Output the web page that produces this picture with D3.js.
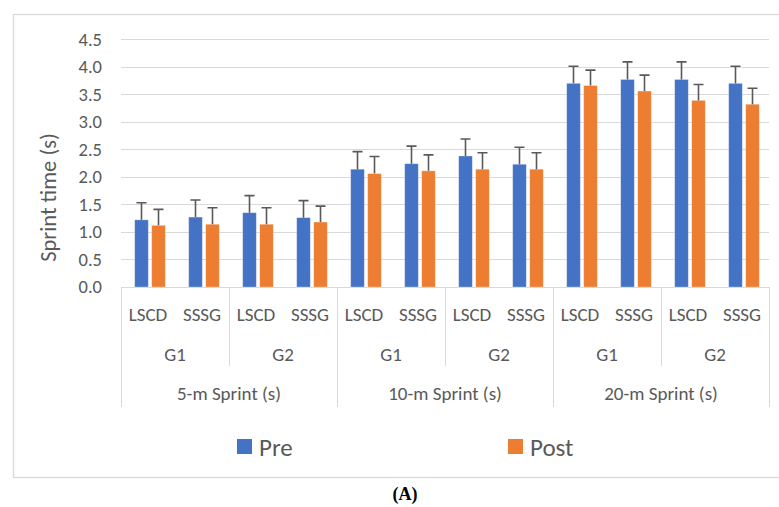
<!DOCTYPE html>
<html>
<head>
    <meta charset="utf-8">
    <title>Sprint time</title>
    <style>
        body { margin: 0; background: #fff; }
        text { font-family: Calibri, Carlito, Lato, sans-serif; fill: #595959; }
        .grid line { stroke: #d9d9d9; stroke-width: 1.3px; shape-rendering: crispEdges; }
        .cat line { stroke: #d9d9d9; stroke-width: 1.3px; shape-rendering: crispEdges; }
        .err { stroke: #595959; stroke-width: 1.6px; fill: none; }
    </style>
    <script src="https://cdn.jsdelivr.net/npm/d3@7"></script>
</head>
<body>
    <script>
        // categories (3 levels)
        var sprints = ["5-m Sprint (s)", "10-m Sprint (s)", "20-m Sprint (s)"];
        var groups = ["G1", "G2"];
        var protocols = ["LSCD", "SSSG"];
        var series = ["Pre", "Post"];
        var yTicks = [0, 0.5, 1, 1.5, 2, 2.5, 3, 3.5, 4, 4.5];

        // means and upper error (SD), in category order
        var pre = [1.22, 1.27, 1.35, 1.26, 2.14, 2.24, 2.38, 2.23, 3.70, 3.77, 3.77, 3.70];
        var preErr = [0.31, 0.31, 0.31, 0.31, 0.32, 0.32, 0.31, 0.31, 0.31, 0.32, 0.32, 0.31];
        var post = [1.12, 1.14, 1.14, 1.18, 2.06, 2.11, 2.14, 2.14, 3.66, 3.56, 3.39, 3.32];
        var postErr = [0.29, 0.30, 0.30, 0.29, 0.31, 0.29, 0.30, 0.30, 0.28, 0.29, 0.29, 0.29];

        (function() {
        var colors = d3.scaleOrdinal().domain(series).range(["#4472C4", "#ED7D31"]);

        // flat category list
        var cats = [];
        sprints.forEach(function(s, i) {
            groups.forEach(function(g, j) {
                protocols.forEach(function(p, k) {
                    cats.push({ id: i + "-" + j + "-" + k, sprint: s, group: g, proto: p });
                });
            });
        });
        cats.forEach(function(c, i) {
            c.values = [
                { key: "Pre", v: pre[i], e: preErr[i] },
                { key: "Post", v: post[i], e: postErr[i] }
            ];
        });

        var W = 779, H = 507;
        var pLeft = 121, pRight = 769, pTop = 39.3, pBottom = 287;

        var svg = d3.select("body").append("svg")
            .attr("width", W)
            .attr("height", H);

        // chart border
        svg.append("rect")
            .attr("x", 13.5).attr("y", 14.5)
            .attr("width", 780).attr("height", 463)
            .attr("fill", "none")
            .attr("stroke", "#d9d9d9")
            .attr("stroke-width", 1.3);

        var x = d3.scaleBand().domain(cats.map(function(c) { return c.id; })).range([pLeft, pRight]);
        var xs = d3.scaleBand().domain(series).range([13.7, 44.3]).paddingInner(0.2);
        var y = d3.scaleLinear().domain([0, 4.5]).range([pBottom, pTop]);

        // gridlines
        svg.append("g")
            .attr("class", "grid")
            .selectAll("line")
            .data(yTicks)
            .enter().append("line")
            .attr("x1", pLeft).attr("x2", pRight)
            .attr("y1", function(d) { return Math.round(y(d)) + 0.5; })
            .attr("y2", function(d) { return Math.round(y(d)) + 0.5; });

        // y tick labels
        svg.append("g")
            .selectAll("text")
            .data(yTicks)
            .enter().append("text")
            .attr("x", 102)
            .attr("y", function(d) { return y(d); })
            .attr("dy", "0.35em")
            .attr("text-anchor", "end")
            .style("font-size", "18.5px")
            .text(d3.format(".1f"));

        svg.append("text")
            .attr("transform", "translate(56,197.5) rotate(-90)")
            .attr("text-anchor", "middle")
            .style("font-size", "22.5px")
            .text("Sprint time (s)");

        // bars
        var cg = svg.append("g").selectAll("g")
            .data(cats)
            .enter().append("g")
            .attr("transform", function(c) { return "translate(" + x(c.id) + ",0)"; });

        cg.selectAll("rect")
            .data(function(c) { return c.values; })
            .enter().append("rect")
            .attr("x", function(d) { return xs(d.key); })
            .attr("width", xs.bandwidth())
            .attr("y", function(d) { return y(d.v); })
            .attr("height", function(d) { return y(0) - y(d.v); })
            .attr("fill", function(d) { return colors(d.key); })
            .attr("stroke", "#fff")
            .attr("stroke-opacity", 0.35)
            .attr("stroke-width", 0.8);

        // error bars (upper only)
        cg.selectAll("path.err")
            .data(function(c) { return c.values; })
            .enter().append("path")
            .attr("class", "err")
            .attr("d", function(d) {
                var cx = xs(d.key) + xs.bandwidth() / 2;
                var y0 = y(d.v), y1 = y(d.v + d.e);
                return "M" + cx + "," + y0 + "V" + y1 + "M" + (cx - 5) + "," + y1 + "H" + (cx + 5);
            });

        // multi-level category axis
        var catAxis = svg.append("g").attr("class", "cat");
        var step = x.step();
        d3.range(0, 7).forEach(function(k) {
            var xx = Math.round(pLeft + k * 2 * step) + 0.5;
            catAxis.append("line")
                .attr("x1", xx).attr("x2", xx)
                .attr("y1", pBottom).attr("y2", k % 2 === 0 ? 407 : 366);
        });

        svg.append("g").selectAll("text")
            .data(cats)
            .enter().append("text")
            .attr("x", function(c) { return x(c.id) + step / 2; })
            .attr("y", 314)
            .attr("dy", "0.35em")
            .attr("text-anchor", "middle")
            .style("font-size", "19px")
            .text(function(c) { return c.proto; });

        var grpData = [];
        sprints.forEach(function(s, i) {
            groups.forEach(function(g, j) { grpData.push({ label: g, idx: i * 2 + j }); });
        });
        svg.append("g").selectAll("text")
            .data(grpData)
            .enter().append("text")
            .attr("x", function(d) { return pLeft + (d.idx * 2 + 1) * step; })
            .attr("y", 354)
            .attr("dy", "0.35em")
            .attr("text-anchor", "middle")
            .style("font-size", "19px")
            .text(function(d) { return d.label; });

        svg.append("g").selectAll("text")
            .data(sprints)
            .enter().append("text")
            .attr("x", function(d, i) { return pLeft + (i * 4 + 2) * step; })
            .attr("y", 393)
            .attr("dy", "0.35em")
            .attr("text-anchor", "middle")
            .style("font-size", "19px")
            .text(function(d) { return d; });

        // legend
        var legX = [237, 508];
        var leg = svg.append("g").selectAll("g")
            .data(series)
            .enter().append("g")
            .attr("transform", function(d, i) { return "translate(" + legX[i] + ",439)"; });
        leg.append("rect")
            .attr("width", 15).attr("height", 15)
            .attr("fill", function(d) { return colors(d); });
        leg.append("text")
            .attr("x", 22).attr("y", 7.5)
            .attr("dy", "0.36em")
            .style("font-size", "25px")
            .text(function(d) { return d; });

        svg.append("text")
            .attr("x", 405).attr("y", 500)
            .attr("text-anchor", "middle")
            .style("font-family", "'Liberation Serif', 'DejaVu Serif', serif")
            .style("font-weight", "bold")
            .style("font-size", "18px")
            .style("fill", "#000")
            .text("(A)");
        })();
    </script>
</body>
</html>
